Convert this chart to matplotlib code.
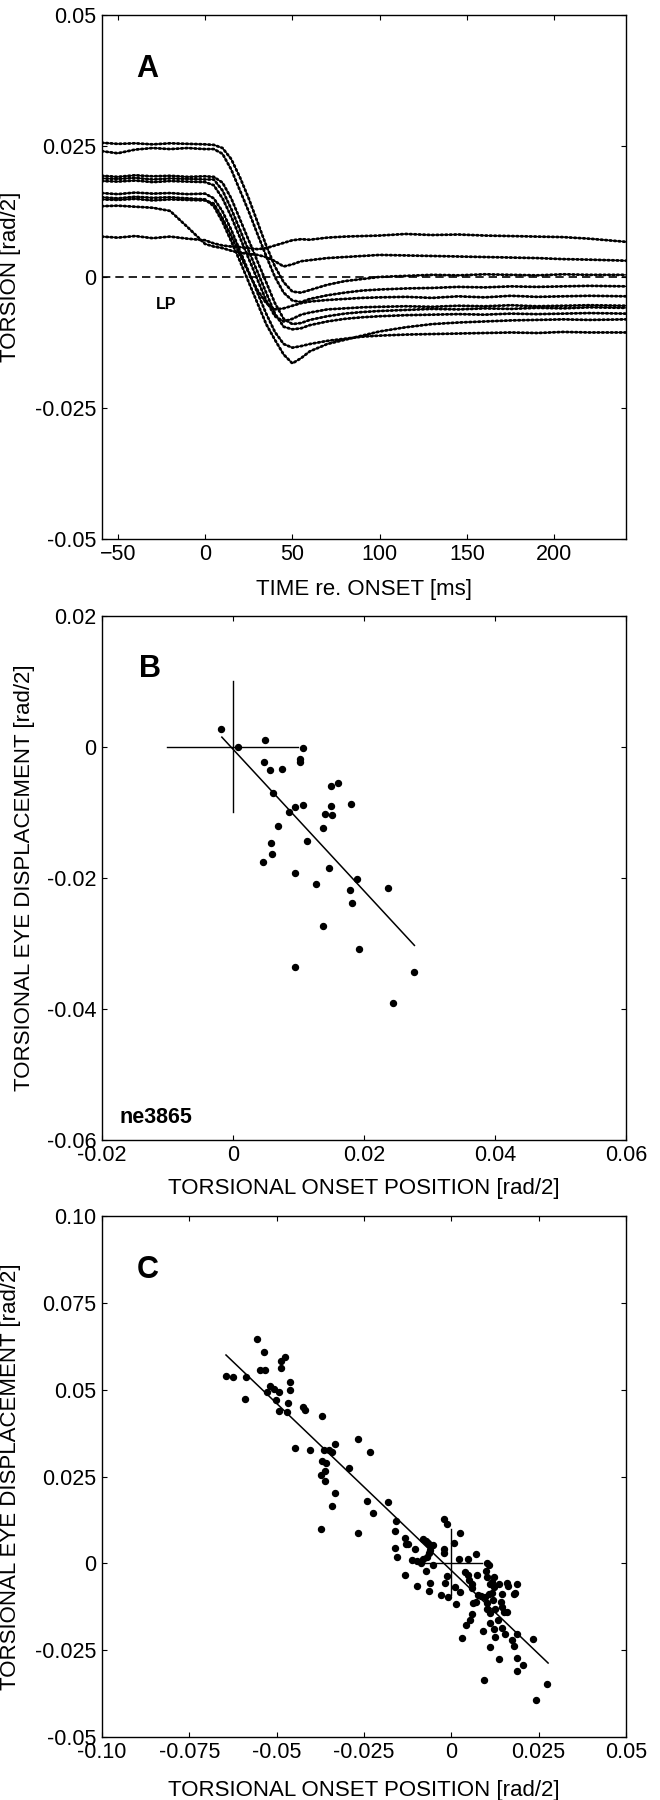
import matplotlib
matplotlib.use('Agg')
import matplotlib.pyplot as plt
import numpy as np

plt.rcParams['font.family'] = ['Liberation Sans', 'DejaVu Sans']
plt.rcParams['axes.linewidth'] = 1.0

# ---- panel A: torsion traces (rad/2) vs time re. onset (ms)
t_a = [-59, -50, -40, -30, -20, -10, 0, 5, 10, 15, 20, 25, 30, 35, 40, 45,
       50, 55, 60, 70, 80, 90, 100, 115, 130, 145, 160, 175, 190, 205, 220, 241]

tr1 = [0.0077, 0.0075, 0.0078, 0.0074, 0.0077, 0.0073, 0.0070, 0.0064, 0.0060, 0.0058, 0.0057, 0.0055,
       0.0053, 0.0055, 0.0060, 0.0065, 0.0070, 0.0072, 0.0071, 0.0075, 0.0077, 0.0078, 0.0079, 0.0082,
       0.0080, 0.0081, 0.0079, 0.0078, 0.0077, 0.0076, 0.0073, 0.0067]
tr2 = [0.0135, 0.0136, 0.0134, 0.0132, 0.0126, 0.0095, 0.0063, 0.0058, 0.0055, 0.0050, 0.0046, 0.0044,
       0.0042, 0.0038, 0.0030, 0.0020, 0.0024, 0.0030, 0.0032, 0.0036, 0.0038, 0.0040, 0.0042, 0.0041,
       0.0040, 0.0039, 0.0038, 0.0037, 0.0036, 0.0034, 0.0033, 0.0031]
tr3 = [0.0256, 0.0254, 0.0255, 0.0253, 0.0255, 0.0254, 0.0253, 0.0252, 0.0246, 0.0225, 0.0190, 0.0150,
       0.0105, 0.0060, 0.0020, -0.0010, -0.0028, -0.0030, -0.0025, -0.0015, -0.0008, -0.0004, 0.0000, 0.0002,
       0.0004, 0.0003, 0.0005, 0.0004, 0.0003, 0.0005, 0.0004, 0.0004]
tr4 = [0.0240, 0.0236, 0.0243, 0.0246, 0.0244, 0.0246, 0.0244, 0.0244, 0.0235, 0.0205, 0.0165, 0.0125,
       0.0082, 0.0040, 0.0000, -0.0030, -0.0045, -0.0048, -0.0042, -0.0035, -0.0030, -0.0026, -0.0024, -0.0022,
       -0.0021, -0.0019, -0.0020, -0.0018, -0.0019, -0.0018, -0.0017, -0.0018]
tr5 = [0.0193, 0.0191, 0.0194, 0.0192, 0.0193, 0.0191, 0.0192, 0.0191, 0.0180, 0.0150, 0.0110, 0.0070,
       0.0030, -0.0010, -0.0050, -0.0080, -0.0090, -0.0088, -0.0082, -0.0075, -0.0070, -0.0067, -0.0065, -0.0063,
       -0.0061, -0.0062, -0.0060, -0.0061, -0.0059, -0.0060, -0.0058, -0.0059]
tr6 = [0.0188, 0.0187, 0.0189, 0.0186, 0.0188, 0.0187, 0.0186, 0.0186, 0.0165, 0.0130, 0.0090, 0.0050,
       0.0010, -0.0030, -0.0070, -0.0095, -0.0100, -0.0098, -0.0092, -0.0085, -0.0080, -0.0077, -0.0075, -0.0073,
       -0.0072, -0.0071, -0.0072, -0.0070, -0.0071, -0.0070, -0.0069, -0.0070]
tr7 = [0.0183, 0.0182, 0.0184, 0.0181, 0.0183, 0.0182, 0.0181, 0.0175, 0.0150, 0.0115, 0.0075, 0.0035,
       -0.0005, -0.0045, -0.0075, -0.0085, -0.0080, -0.0072, -0.0068, -0.0062, -0.0060, -0.0058, -0.0057, -0.0056,
       -0.0057, -0.0055, -0.0056, -0.0054, -0.0056, -0.0055, -0.0054, -0.0055]
tr8 = [0.0160, 0.0158, 0.0161, 0.0159, 0.0160, 0.0158, 0.0159, 0.0150, 0.0125, 0.0090, 0.0050, 0.0010,
       -0.0030, -0.0070, -0.0105, -0.0128, -0.0135, -0.0132, -0.0128, -0.0122, -0.0118, -0.0114, -0.0112, -0.0110,
       -0.0109, -0.0108, -0.0107, -0.0106, -0.0107, -0.0105, -0.0106, -0.0106]
tr9 = [0.0152, 0.0150, 0.0153, 0.0151, 0.0152, 0.0150, 0.0148, 0.0135, 0.0105, 0.0068, 0.0030, -0.0010,
       -0.0050, -0.0090, -0.0120, -0.0148, -0.0165, -0.0155, -0.0142, -0.0128, -0.0120, -0.0112, -0.0104, -0.0096,
       -0.0090, -0.0087, -0.0085, -0.0083, -0.0082, -0.0081, -0.0082, -0.0081]
tr10 = [0.0148, 0.0147, 0.0149, 0.0146, 0.0148, 0.0147, 0.0146, 0.0140, 0.0112, 0.0078, 0.0042, 0.0008,
        -0.0025, -0.0050, -0.0062, -0.0060, -0.0055, -0.0050, -0.0047, -0.0044, -0.0042, -0.0040, -0.0039, -0.0038,
        -0.0040, -0.0037, -0.0039, -0.0036, -0.0038, -0.0037, -0.0036, -0.0037]
traces_a = [tr1, tr2, tr3, tr4, tr5, tr6, tr7, tr8, tr9, tr10]

# ---- panel B: single session ne3865
onset_b = [-0.0019, 0.0008, 0.0049, 0.0107, 0.0048, 0.0056, 0.0075, 0.0102, 0.0102, 0.0061,
           0.0150, 0.0161, 0.0180, 0.0094, 0.0107, 0.0085, 0.0149, 0.0141, 0.0151, 0.0068,
           0.0137, 0.0113, 0.0058, 0.0060, 0.0046, 0.0146, 0.0094, 0.0189, 0.0127, 0.0237,
           0.0178, 0.0181, 0.0138, 0.0192, 0.0095, 0.0277, 0.0244]
disp_b = [0.0028, 0.0000, 0.0011, -0.0001, -0.0023, -0.0035, -0.0033, -0.0019, -0.0023, -0.0071,
          -0.0059, -0.0055, -0.0087, -0.0091, -0.0089, -0.0100, -0.0090, -0.0103, -0.0104, -0.0121,
          -0.0124, -0.0143, -0.0147, -0.0164, -0.0175, -0.0185, -0.0192, -0.0202, -0.0209, -0.0216,
          -0.0218, -0.0238, -0.0274, -0.0309, -0.0336, -0.0344, -0.0391]
fit_b_x = [-0.0017, 0.0277]
fit_b_y = [0.0015, -0.0303]
cross_b = 0.01

# ---- panel C: all sessions
onset_c = [-0.0557, -0.0537, -0.0475, -0.0487, -0.0488, -0.0547, -0.0532, -0.0645, -0.0624, -0.0589,
           -0.0462, -0.0519, -0.0507, -0.0494, -0.0463, -0.0528, -0.0591, -0.0502, -0.0468, -0.0494,
           -0.0471, -0.0425, -0.0418, -0.0369, -0.0448, -0.0405, -0.0365, -0.0349, -0.0342, -0.0333,
           -0.0267, -0.0233, -0.0370, -0.0359, -0.0294, -0.0362, -0.0374, -0.0362, -0.0333, -0.0342,
           -0.0241, -0.0180, -0.0223, -0.0158, -0.0372, -0.0266, -0.0161, -0.0161, -0.0155,
           -0.0021, -0.0011, 0.0025, -0.0133, -0.0130, -0.0123, -0.0104, -0.0082, -0.0072, -0.0066,
           -0.0059, -0.0053, -0.0061, -0.0063, -0.0070, -0.0021, -0.0021, 0.0009, -0.0113, -0.0099,
           -0.0088, -0.0080, -0.0052, -0.0072, -0.0133, -0.0099, -0.0062, -0.0064, -0.0012, -0.0019,
           0.0011, -0.0029, -0.0009, 0.0025, 0.0013, 0.0023, 0.0047, 0.0070, 0.0101, 0.0107,
           0.0040, 0.0049, 0.0074, 0.0050, 0.0058, 0.0058, 0.0098, 0.0101, 0.0123, 0.0117,
           0.0110, 0.0123, 0.0137, 0.0159, 0.0161, 0.0189, 0.0076, 0.0084, 0.0096, 0.0109,
           0.0115, 0.0146, 0.0063, 0.0070, 0.0102, 0.0119, 0.0141, 0.0102, 0.0111, 0.0126,
           0.0145, 0.0151, 0.0159, 0.0183, 0.0180, 0.0058, 0.0054, 0.0043, 0.0111, 0.0135,
           0.0092, 0.0122, 0.0145, 0.0030, 0.0125, 0.0153, 0.0188, 0.0175, 0.0179, 0.0235,
           0.0111, 0.0137, 0.0187, 0.0204, 0.0189, 0.0093, 0.0273, 0.0241]
disp_c = [0.0647, 0.0608, 0.0595, 0.0582, 0.0562, 0.0557, 0.0557, 0.0539, 0.0536, 0.0536,
          0.0521, 0.0511, 0.0503, 0.0492, 0.0499, 0.0492, 0.0472, 0.0470, 0.0461, 0.0438,
          0.0435, 0.0449, 0.0443, 0.0423, 0.0332, 0.0325, 0.0326, 0.0326, 0.0320, 0.0344,
          0.0358, 0.0322, 0.0295, 0.0290, 0.0275, 0.0266, 0.0253, 0.0237, 0.0204, 0.0164,
          0.0179, 0.0176, 0.0146, 0.0121, 0.0099, 0.0087, 0.0093, 0.0045, 0.0017,
          0.0128, 0.0113, 0.0088, 0.0074, 0.0055, 0.0056, 0.0040, 0.0070, 0.0064, 0.0058,
          0.0050, 0.0052, 0.0038, 0.0029, 0.0019, 0.0040, 0.0029, 0.0058, 0.0010, 0.0008,
          0.0002, 0.0013, -0.0005, -0.0021, -0.0033, -0.0065, -0.0056, -0.0080, -0.0035, -0.0056,
          -0.0067, -0.0090, -0.0098, -0.0083, -0.0118, 0.0012, 0.0012, 0.0027, 0.0000, -0.0005,
          -0.0025, -0.0034, -0.0034, -0.0048, -0.0060, -0.0072, -0.0022, -0.0039, -0.0040, -0.0053,
          -0.0060, -0.0067, -0.0060, -0.0056, -0.0065, -0.0060, -0.0092, -0.0095, -0.0096, -0.0089,
          -0.0086, -0.0089, -0.0115, -0.0112, -0.0115, -0.0106, -0.0112, -0.0130, -0.0144, -0.0132,
          -0.0127, -0.0139, -0.0139, -0.0086, -0.0088, -0.0146, -0.0163, -0.0178, -0.0171, -0.0163,
          -0.0194, -0.0188, -0.0187, -0.0216, -0.0211, -0.0204, -0.0204, -0.0221, -0.0238, -0.0218,
          -0.0242, -0.0276, -0.0272, -0.0293, -0.0310, -0.0336, -0.0346, -0.0393]
fit_c_x = [-0.0645, 0.0277]
fit_c_y = [0.0600, -0.0287]
cross_c_x = [-0.0085, 0.0087]
cross_c_y = [-0.0092, 0.0098]

fig = plt.figure(figsize=(6.6, 18), dpi=100)
ax_a = fig.add_axes([0.1545, 0.7006, 0.794, 0.2911])
ax_b = fig.add_axes([0.1545, 0.3667, 0.794, 0.2911])
ax_c = fig.add_axes([0.1545, 0.0350, 0.794, 0.2894])


def style(ax):
    ax.tick_params(direction='in', length=3.4, width=0.8, top=True, right=True,
                   labelsize=15.5)
    ax.tick_params(axis='x', pad=3.5)
    ax.tick_params(axis='y', pad=3.8)


# A: thin solid core plus beaded overlay to look like sampled dots
for tr in traces_a:
    ax_a.plot(t_a, tr, color='black', lw=0.9)
    ax_a.plot(t_a, tr, color='black', lw=2.0, ls=(0, (0.5, 1.1)),
              dash_capstyle='round')
ax_a.axhline(0, color='black', lw=1.2, ls=(0, (5, 3)))
ax_a.set_xlim(-59, 241)
ax_a.set_ylim(-0.05, 0.05)
ax_a.set_xticks([-50, 0, 50, 100, 150, 200])
ax_a.set_yticks([-0.05, -0.025, 0, 0.025, 0.05])
ax_a.set_yticklabels(['-0.05', '-0.025', '0', '0.025', '0.05'])
ax_a.set_xlabel('TIME re. ONSET [ms]', fontsize=16)
ax_a.set_ylabel('TORSION [rad/2]', fontsize=16)
ax_a.xaxis.set_label_coords(0.5, -0.076)
ax_a.yaxis.set_label_coords(-0.155, 0.5)
ax_a.text(0.066, 0.881, 'A', transform=ax_a.transAxes, fontsize=22, fontweight='bold')
ax_a.text(-28.3, -0.0061, 'LP', fontsize=11.5, fontweight='bold')
style(ax_a)

# B
ax_b.plot(onset_b, disp_b, 'o', color='black', ms=4.3)
ax_b.plot(fit_b_x, fit_b_y, color='black', lw=1.1)
ax_b.plot([-cross_b, cross_b], [0, 0], color='black', lw=1.0)
ax_b.plot([0, 0], [-cross_b, cross_b], color='black', lw=1.0)
ax_b.set_xlim(-0.02, 0.06)
ax_b.set_ylim(-0.06, 0.02)
ax_b.set_xticks([-0.02, 0, 0.02, 0.04, 0.06])
ax_b.set_xticklabels(['-0.02', '0', '0.02', '0.04', '0.06'])
ax_b.set_yticks([-0.06, -0.04, -0.02, 0, 0.02])
ax_b.set_yticklabels(['-0.06', '-0.04', '-0.02', '0', '0.02'])
ax_b.set_xlabel('TORSIONAL ONSET POSITION [rad/2]', fontsize=16)
ax_b.set_ylabel('TORSIONAL EYE DISPLACEMENT [rad/2]', fontsize=16)
ax_b.xaxis.set_label_coords(0.5, -0.072)
ax_b.yaxis.set_label_coords(-0.128, 0.5)
ax_b.text(0.071, 0.883, 'B', transform=ax_b.transAxes, fontsize=22, fontweight='bold')
ax_b.text(0.034, 0.033, 'ne3865', transform=ax_b.transAxes, fontsize=15.5, fontweight='bold')
style(ax_b)

# C
ax_c.plot(onset_c, disp_c, 'o', color='black', ms=4.3)
ax_c.plot(fit_c_x, fit_c_y, color='black', lw=1.1)
ax_c.plot(cross_c_x, [0, 0], color='black', lw=1.0)
ax_c.plot([0, 0], cross_c_y, color='black', lw=1.0)
ax_c.set_xlim(-0.1, 0.05)
ax_c.set_ylim(-0.05, 0.1)
ax_c.set_xticks([-0.1, -0.075, -0.05, -0.025, 0, 0.025, 0.05])
ax_c.set_xticklabels(['-0.10', '-0.075', '-0.05', '-0.025', '0', '0.025', '0.05'])
ax_c.set_yticks([-0.05, -0.025, 0, 0.025, 0.05, 0.075, 0.1])
ax_c.set_yticklabels(['-0.05', '-0.025', '0', '0.025', '0.05', '0.075', '0.10'])
ax_c.set_xlabel('TORSIONAL ONSET POSITION [rad/2]', fontsize=16)
ax_c.set_ylabel('TORSIONAL EYE DISPLACEMENT [rad/2]', fontsize=16)
ax_c.xaxis.set_label_coords(0.5, -0.082)
ax_c.yaxis.set_label_coords(-0.155, 0.5)
ax_c.text(0.066, 0.882, 'C', transform=ax_c.transAxes, fontsize=22, fontweight='bold')
style(ax_c)

fig.savefig('out.png', dpi=100)
